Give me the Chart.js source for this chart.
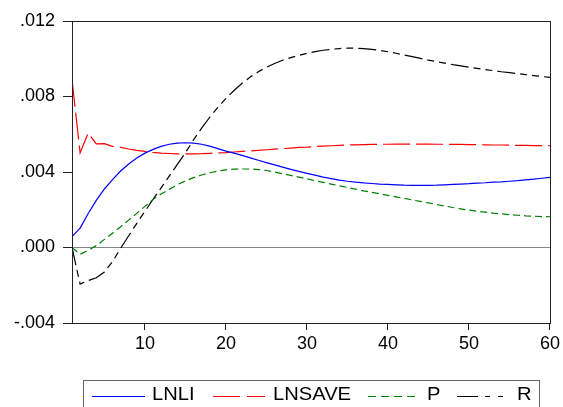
<!DOCTYPE html>
<html>
<head>
<meta charset="utf-8">
<script src="https://cdn.jsdelivr.net/npm/chart.js@4.4.0/dist/chart.umd.min.js"></script>
<style>
html,body{margin:0;padding:0;background:#fff;}
</style>
</head>
<body>
<canvas id="myChart" width="563" height="407"></canvas>
<script>
// periods 1..60
var periods = [];
for (var p = 1; p <= 60; p++) periods.push(p);

var xTicks = [10, 20, 30, 40, 50, 60];
var yTicks = [-0.004, 0, 0.004, 0.008, 0.012];

var lnli = [0.00058, 0.00103, 0.00180, 0.00250, 0.00310, 0.00360, 0.00405, 0.00442, 0.00474, 0.00500,
            0.00520, 0.00536, 0.00547, 0.00553, 0.00555, 0.00553, 0.00547, 0.00537, 0.00524, 0.00511,
            0.00500, 0.00488, 0.00475, 0.00462, 0.00450, 0.00438, 0.00426, 0.00414, 0.00403, 0.00393,
            0.00383, 0.00373, 0.00365, 0.00357, 0.00351, 0.00346, 0.00342, 0.00339, 0.00336, 0.00334,
            0.00332, 0.00330, 0.00329, 0.00329, 0.00329, 0.00330, 0.00332, 0.00334, 0.00336, 0.00338,
            0.00341, 0.00343, 0.00346, 0.00348, 0.00351, 0.00354, 0.00358, 0.00362, 0.00367, 0.00372];

var lnsave = [0.00888, 0.00502, 0.00606, 0.00549, 0.00550, 0.00536, 0.00530, 0.00522, 0.00515, 0.00509,
              0.00504, 0.00500, 0.00498, 0.00496, 0.00496, 0.00496, 0.00497, 0.00499, 0.00501, 0.00503,
              0.00506, 0.00509, 0.00512, 0.00515, 0.00518, 0.00521, 0.00524, 0.00527, 0.00530, 0.00532,
              0.00535, 0.00537, 0.00539, 0.00541, 0.00543, 0.00544, 0.00545, 0.00546, 0.00547, 0.00547,
              0.00548, 0.00548, 0.00548, 0.00548, 0.00548, 0.00547, 0.00547, 0.00546, 0.00546, 0.00545,
              0.00545, 0.00544, 0.00543, 0.00543, 0.00542, 0.00541, 0.00541, 0.00540, 0.00540, 0.00539];

var pSeries = [0.00000, -0.00036, -0.00015, 0.00010, 0.00043, 0.00076, 0.00110, 0.00145, 0.00181, 0.00218,
               0.00255, 0.00283, 0.00308, 0.00333, 0.00353, 0.00370, 0.00384, 0.00396, 0.00405, 0.00411,
               0.00415, 0.00416, 0.00416, 0.00413, 0.00408, 0.00400, 0.00391, 0.00382, 0.00373, 0.00364,
               0.00354, 0.00345, 0.00336, 0.00327, 0.00318, 0.00309, 0.00300, 0.00292, 0.00284, 0.00276,
               0.00268, 0.00260, 0.00252, 0.00244, 0.00236, 0.00228, 0.00220, 0.00212, 0.00205, 0.00198,
               0.00192, 0.00187, 0.00182, 0.00178, 0.00174, 0.00171, 0.00168, 0.00166, 0.00164, 0.00163];

var rSeries = [0.00000, -0.00194, -0.00175, -0.00160, -0.00130, -0.00075, -0.00005, 0.00062, 0.00128, 0.00192,
               0.00255, 0.00316, 0.00378, 0.00440, 0.00502, 0.00570, 0.00632, 0.00690, 0.00742, 0.00790,
               0.00832, 0.00870, 0.00903, 0.00931, 0.00955, 0.00975, 0.00992, 0.01006, 0.01018, 0.01029,
               0.01038, 0.01045, 0.01050, 0.01054, 0.01056, 0.01056, 0.01054, 0.01050, 0.01044, 0.01037,
               0.01029, 0.01020, 0.01011, 0.01002, 0.00993, 0.00985, 0.00977, 0.00969, 0.00962, 0.00955,
               0.00949, 0.00943, 0.00937, 0.00931, 0.00926, 0.00921, 0.00916, 0.00911, 0.00906, 0.00901];

var seriesNames = ['LNLI', 'LNSAVE', 'P', 'R'];
var seriesColors = ['#0000ff', '#ff0000', '#008000', '#000000'];
var seriesDash = [[], [27, 6], [7, 4], [18, 5, 7, 5, 7, 5]];
var legendDash = [[], [27, 7], [8, 5], [21, 7, 5, 8, 5, 8]];

function pts(arr) {
  return arr.map(function (v, i) { return {x: periods[i], y: v}; });
}

var allSeries = [lnli, lnsave, pSeries, rSeries];
var datasets = allSeries.map(function (arr, i) {
  return {
    label: seriesNames[i],
    data: pts(arr),
    borderColor: seriesColors[i],
    borderWidth: 1.2,
    borderDash: seriesDash[i],
    pointRadius: 0,
    tension: 0,
    fill: false
  };
});

var FONT = '"Liberation Sans", Arial, sans-serif';

// frame round the plot area + legend box at the bottom
var framePlugin = {
  id: 'frame',
  afterDraw: function (chart) {
    var a = chart.chartArea;
    var ctx = chart.ctx;
    ctx.save();
    ctx.strokeStyle = '#222';
    ctx.lineWidth = 1;
    ctx.setLineDash([]);
    ctx.strokeRect(Math.round(a.left) + 0.5, Math.round(a.top) + 0.5,
                   Math.round(a.right - a.left), Math.round(a.bottom - a.top));

    // legend
    ctx.strokeStyle = '#666';
    ctx.strokeRect(83.5, 380.5, 456, 40);
    var lineX = [[92, 145], [213, 265], [368, 417], [457, 505]];
    var textX = [152, 273, 427, 517];
    var ly = 396.5;
    for (var i = 0; i < 4; i++) {
      ctx.beginPath();
      ctx.strokeStyle = seriesColors[i];
      ctx.lineWidth = 1.2;
      ctx.setLineDash(legendDash[i]);
      ctx.moveTo(lineX[i][0], ly);
      ctx.lineTo(lineX[i][1], ly);
      ctx.stroke();
      ctx.setLineDash([]);
      ctx.save();
      ctx.fillStyle = '#000';
      ctx.font = '18px ' + FONT;
      ctx.textBaseline = 'middle';
      ctx.translate(textX[i], 395);
      ctx.scale(1.12, 1);
      ctx.fillText(seriesNames[i], 0, 0);
      ctx.restore();
    }
    ctx.restore();
  }
};

var config = {
  type: 'line',
  data: { datasets: datasets },
  options: {
    responsive: false,
    animation: false,
    layout: { padding: { top: 21, right: 11, bottom: 54, left: 0 } },
    plugins: { legend: { display: false }, tooltip: { enabled: false } },
    scales: {
      x: {
        type: 'linear',
        min: 1,
        max: 60,
        afterBuildTicks: function (s) { s.ticks = xTicks.map(function (v) { return {value: v}; }); },
        afterFit: function (s) { s.height = 30; },
        border: { display: false },
        grid: { drawOnChartArea: false, tickLength: 7, tickColor: '#222' },
        ticks: { color: '#000', font: { family: FONT, size: 18 }, padding: 3, maxRotation: 0 }
      },
      y: {
        min: -0.004,
        max: 0.012,
        afterBuildTicks: function (s) { s.ticks = yTicks.map(function (v) { return {value: v}; }); },
        afterFit: function (s) { s.width = 72; },
        border: { display: false },
        grid: {
          tickLength: 9,
          tickColor: '#222',
          color: function (c) { return (c.tick && c.tick.value === 0) ? '#888' : 'rgba(0,0,0,0)'; }
        },
        ticks: {
          color: '#000',
          font: { family: FONT, size: 18 },
          padding: 8,
          callback: function (v) { return Number(v).toFixed(3).replace('0.', '.'); }
        }
      }
    }
  },
  plugins: [framePlugin]
};

var chartInstance = new Chart(document.getElementById('myChart'), config);
</script>
</body>
</html>
